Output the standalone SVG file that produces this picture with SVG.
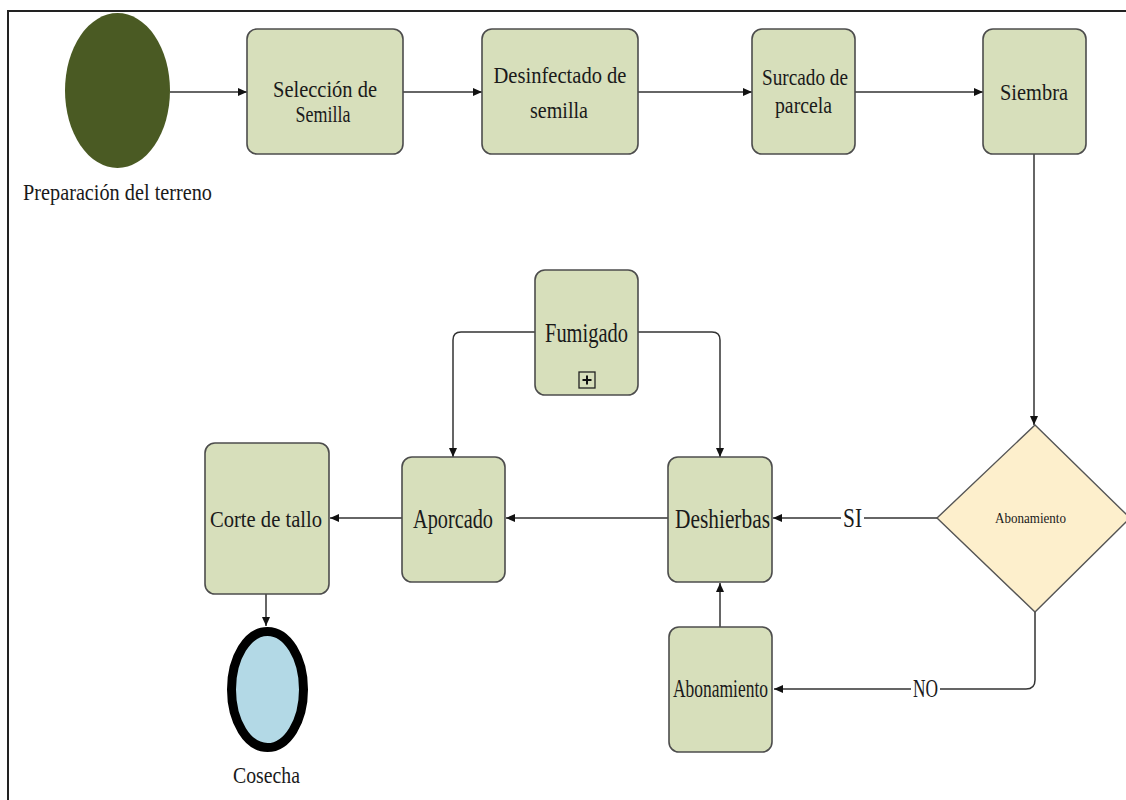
<svg xmlns="http://www.w3.org/2000/svg" width="1126" height="800" viewBox="0 0 1126 800">
<style>
.box{fill:#d7dfbb;stroke:#4d4d4d;stroke-width:1.6}
.t{font-family:"Liberation Serif","Times New Roman",serif;fill:#1a1a1a;text-anchor:middle}
.c{fill:none;stroke:#333;stroke-width:1.5}
.lbl{fill:#fff}
</style>
<defs>
<marker id="arr" markerUnits="userSpaceOnUse" markerWidth="10" markerHeight="10" refX="9" refY="4" orient="auto">
<path d="M0,0 L9,4 L0,8 z" fill="#111"/>
</marker>
</defs>
<rect width="1126" height="800" fill="#fff"/>
<path d="M8,800 V11 H1126" fill="none" stroke="#222" stroke-width="2"/>

<g id="connectors">
<path class="c" d="M170,92 H247" marker-end="url(#arr)"/>
<path class="c" d="M403,92 H482" marker-end="url(#arr)"/>
<path class="c" d="M638,92 H752" marker-end="url(#arr)"/>
<path class="c" d="M855,92 H983" marker-end="url(#arr)"/>
<path class="c" d="M1034,154 V425" marker-end="url(#arr)"/>
<path class="c" d="M937,518 H773" marker-end="url(#arr)"/>
<path class="c" d="M1035,612 V680 Q1035,689 1026,689 H774" marker-end="url(#arr)"/>
<path class="c" d="M720,627 V583" marker-end="url(#arr)"/>
<path class="c" d="M668,518 H506" marker-end="url(#arr)"/>
<path class="c" d="M402,518 H330" marker-end="url(#arr)"/>
<path class="c" d="M266,594 V626" marker-end="url(#arr)"/>
<path class="c" d="M535,332 H461 Q453,332 453,340 V457" marker-end="url(#arr)"/>
<path class="c" d="M638,332 H712 Q720,332 720,340 V457" marker-end="url(#arr)"/>
<rect class="lbl" x="841" y="506" width="23" height="24"/>
<text class="t" x="852.5" y="527" font-size="27" textLength="19" lengthAdjust="spacingAndGlyphs">SI</text>
<rect class="lbl" x="911" y="677" width="29" height="24"/>
<text class="t" x="925.5" y="697" font-size="25" textLength="25" lengthAdjust="spacingAndGlyphs">NO</text>
</g>

<g id="preparacion">
<ellipse cx="117.5" cy="90.5" rx="52.5" ry="77.5" fill="#4a5a23"/>
<text class="t" x="117.5" y="200" font-size="23" textLength="189" lengthAdjust="spacingAndGlyphs">Preparación del terreno</text>
</g>

<g id="seleccion">
<rect class="box" x="247" y="29" width="156" height="125" rx="10"/>
<text class="t" x="325" y="97" font-size="23" textLength="104" lengthAdjust="spacingAndGlyphs">Selección de</text>
<text class="t" x="323" y="122" font-size="23" textLength="55" lengthAdjust="spacingAndGlyphs">Semilla</text>
</g>

<g id="desinfectado">
<rect class="box" x="482" y="29" width="156" height="125" rx="10"/>
<text class="t" x="560" y="83" font-size="23" textLength="133" lengthAdjust="spacingAndGlyphs">Desinfectado de</text>
<text class="t" x="559" y="118" font-size="23" textLength="58" lengthAdjust="spacingAndGlyphs">semilla</text>
</g>

<g id="surcado">
<rect class="box" x="752" y="29" width="103" height="125" rx="10"/>
<text class="t" x="805" y="85" font-size="23" textLength="86" lengthAdjust="spacingAndGlyphs">Surcado de</text>
<text class="t" x="803.5" y="113" font-size="23" textLength="57" lengthAdjust="spacingAndGlyphs">parcela</text>
</g>

<g id="siembra">
<rect class="box" x="983" y="29" width="103" height="125" rx="10"/>
<text class="t" x="1034" y="100" font-size="23" textLength="68" lengthAdjust="spacingAndGlyphs">Siembra</text>
</g>

<g id="decision">
<polygon points="1035,425 1130,518 1035,612 937,518" fill="#fdefcc" stroke="#555" stroke-width="1.4"/>
<text class="t" x="1030.5" y="523" font-size="15" textLength="71" lengthAdjust="spacingAndGlyphs">Abonamiento</text>
</g>

<g id="fumigado">
<rect class="box" x="535" y="270" width="103" height="125" rx="10"/>
<text class="t" x="586.5" y="342" font-size="27" textLength="83" lengthAdjust="spacingAndGlyphs">Fumigado</text>
<rect x="579" y="372" width="16" height="16" fill="none" stroke="#222" stroke-width="1.3"/>
<path d="M587,375.5 V384.5 M582.5,380 H591.5" stroke="#111" stroke-width="2"/>
</g>

<g id="deshierbas">
<rect class="box" x="668" y="457" width="104" height="125" rx="10"/>
<text class="t" x="722.5" y="528" font-size="27" textLength="95" lengthAdjust="spacingAndGlyphs">Deshierbas</text>
</g>

<g id="aporcado">
<rect class="box" x="402" y="457" width="103" height="125" rx="10"/>
<text class="t" x="453" y="528" font-size="27" textLength="80" lengthAdjust="spacingAndGlyphs">Aporcado</text>
</g>

<g id="corte">
<rect class="box" x="205" y="443" width="124" height="151" rx="10"/>
<text class="t" x="266" y="527" font-size="24" textLength="112" lengthAdjust="spacingAndGlyphs">Corte de tallo</text>
</g>

<g id="abonamiento">
<rect class="box" x="669" y="627" width="103" height="125" rx="10"/>
<text class="t" x="720.5" y="697" font-size="25" textLength="95" lengthAdjust="spacingAndGlyphs">Abonamiento</text>
</g>

<g id="cosecha">
<ellipse cx="267.5" cy="689.5" rx="36" ry="58" fill="#b3d9e6" stroke="#000" stroke-width="9"/>
<text class="t" x="266.5" y="783" font-size="23" textLength="67" lengthAdjust="spacingAndGlyphs">Cosecha</text>
</g>
</svg>
